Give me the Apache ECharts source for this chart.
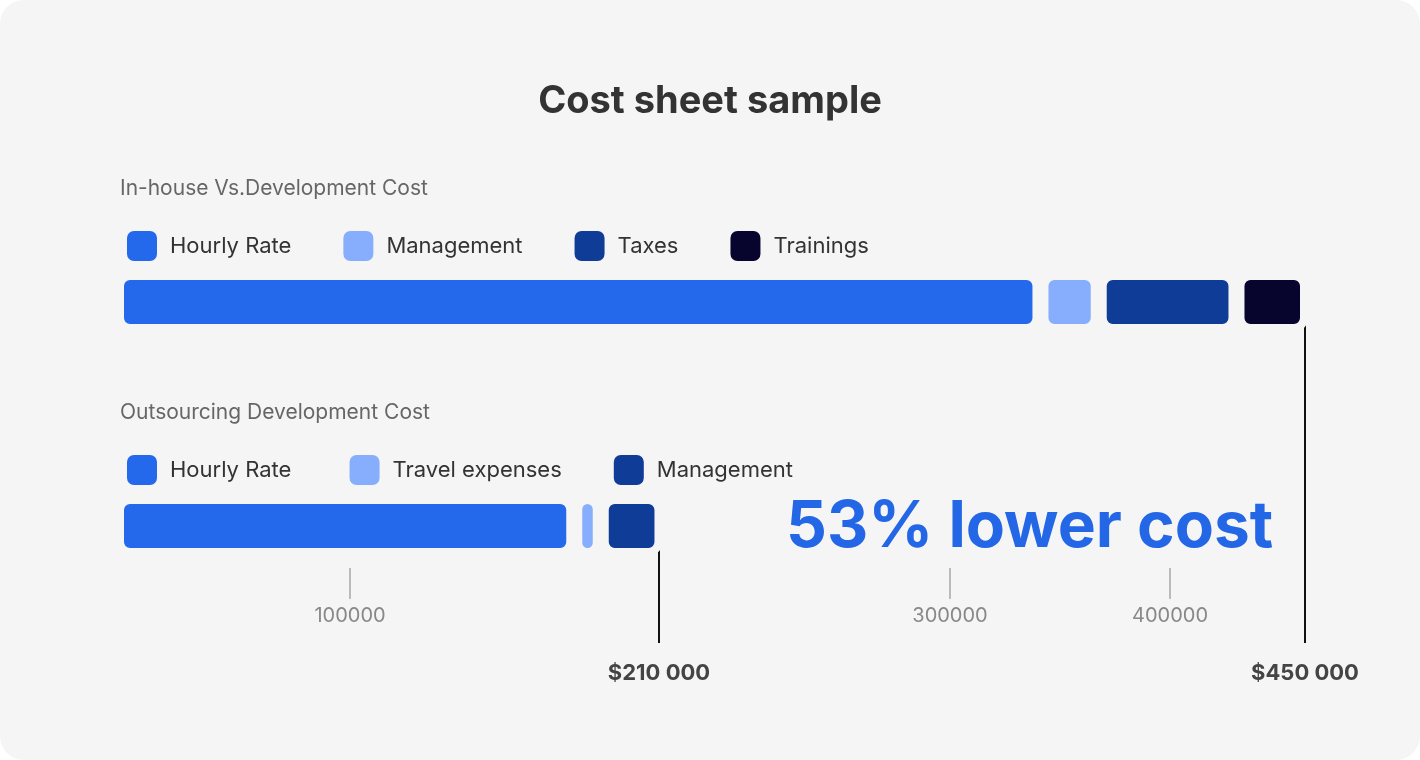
<!DOCTYPE html>
<html><head><meta charset="utf-8">
<script src="https://cdn.jsdelivr.net/npm/echarts@6/dist/echarts.min.js"></script>
<style>html,body{margin:0;background:#fff}#c{width:1420px;height:760px;background:#f5f5f5;border-radius:24px}</style>
</head><body><div id="c"></div>
<script>
const inhouseNames=['Hourly Rate','Management','Taxes','Trainings'];
const inhouseValues=[349000,22000,52000,27000];
const inhouseColors=['#2468ec','#86aefc','#0f3c96','#07052e'];
const outNames=['Hourly Rate ','Travel expenses','Management '];
const outValues=[173000,10000,23300];
const outColors=['#2468ec','#86aefc','#0f3c96'];
const totals=[{label:'$450 000',value:450000,grid:0},{label:'$210 000',value:206300,grid:1}];
const tickLabels={23:'100000',83:'300000',105:'400000'};
const tickCats=Array.from({length:119},(_,i)=>tickLabels[i]||'');
const chart=echarts.init(document.getElementById('c'));
const font='Inter, Roboto, sans-serif';
const series=[];
inhouseNames.forEach((n,i)=>series.push({name:n,type:'bar',stack:'a',xAxisIndex:0,yAxisIndex:0,barWidth:60,data:[inhouseValues[i]],itemStyle:{color:inhouseColors[i],borderRadius:10,borderColor:'#f5f5f5',borderWidth:8}}));
outNames.forEach((n,i)=>series.push({name:n,type:'bar',stack:'b',xAxisIndex:1,yAxisIndex:1,barWidth:60,data:[outValues[i]],itemStyle:{color:outColors[i],borderRadius:10,borderColor:'#f5f5f5',borderWidth:8}}));
const legendCommon={itemWidth:32,itemHeight:32,itemGap:50,icon:'roundRect',selectedMode:false,textStyle:{fontSize:22,color:'#333',fontFamily:font,padding:[0,0,0,7]}};
const valAxis=gi=>({type:'value',gridIndex:gi,min:0,max:450000,show:false});
chart.setOption({
  title:{text:'Cost sheet sample',left:'center',top:78,textStyle:{fontSize:38,fontWeight:'bold',color:'#333',fontFamily:font}},
  legend:[
    Object.assign({left:120,top:224,data:inhouseNames.map((n,i)=>({name:n,itemStyle:{color:inhouseColors[i]}}))},legendCommon),
    Object.assign({left:120,top:448,data:outNames.map((n,i)=>({name:n,itemStyle:{color:outColors[i]}}))},legendCommon)
  ],
  grid:[{left:116,right:112,top:272,height:60},{left:116,right:112,top:496,height:60},{left:120,right:120,top:567,height:1}],
  xAxis:[valAxis(0),valAxis(1),{type:'category',gridIndex:2,data:tickCats,boundaryGap:false,axisLine:{show:false},
    axisTick:{length:31,lineStyle:{color:'#bbb',width:2},interval:(i,v)=>v!==''},
    axisLabel:{interval:0,margin:38,fontSize:20,color:'#888',fontFamily:font}}],
  yAxis:[{type:'category',gridIndex:0,data:['a'],show:false},{type:'category',gridIndex:1,data:['b'],show:false},{type:'value',gridIndex:2,show:false}],
  series:series
});
const g=[
  {type:'text',left:120,top:178,style:{text:'In-house Vs.Development Cost',fontSize:21,fill:'#666',fontFamily:font}},
  {type:'text',left:120,top:402,style:{text:'Outsourcing Development Cost',fontSize:21,fill:'#666',fontFamily:font}},
  {type:'text',left:786,top:496,style:{text:'53% lower cost',fontSize:64,fontWeight:'bold',fill:'#2467e6',fontFamily:font}}
];
const bottoms=[328,552];
totals.forEach(t=>{
  const x=Math.round(chart.convertToPixel({xAxisIndex:t.grid},t.value))-3;
  g.push({type:'line',shape:{x1:x,y1:bottoms[t.grid]-4,x2:x,y2:643},style:{stroke:'#111',lineWidth:2}});
  g.push({type:'text',x:x,y:662,style:{text:t.label,fontSize:22,fontWeight:'bold',fill:'#444',fontFamily:font,align:'center'}});
});
chart.setOption({graphic:g});
</script></body></html>
